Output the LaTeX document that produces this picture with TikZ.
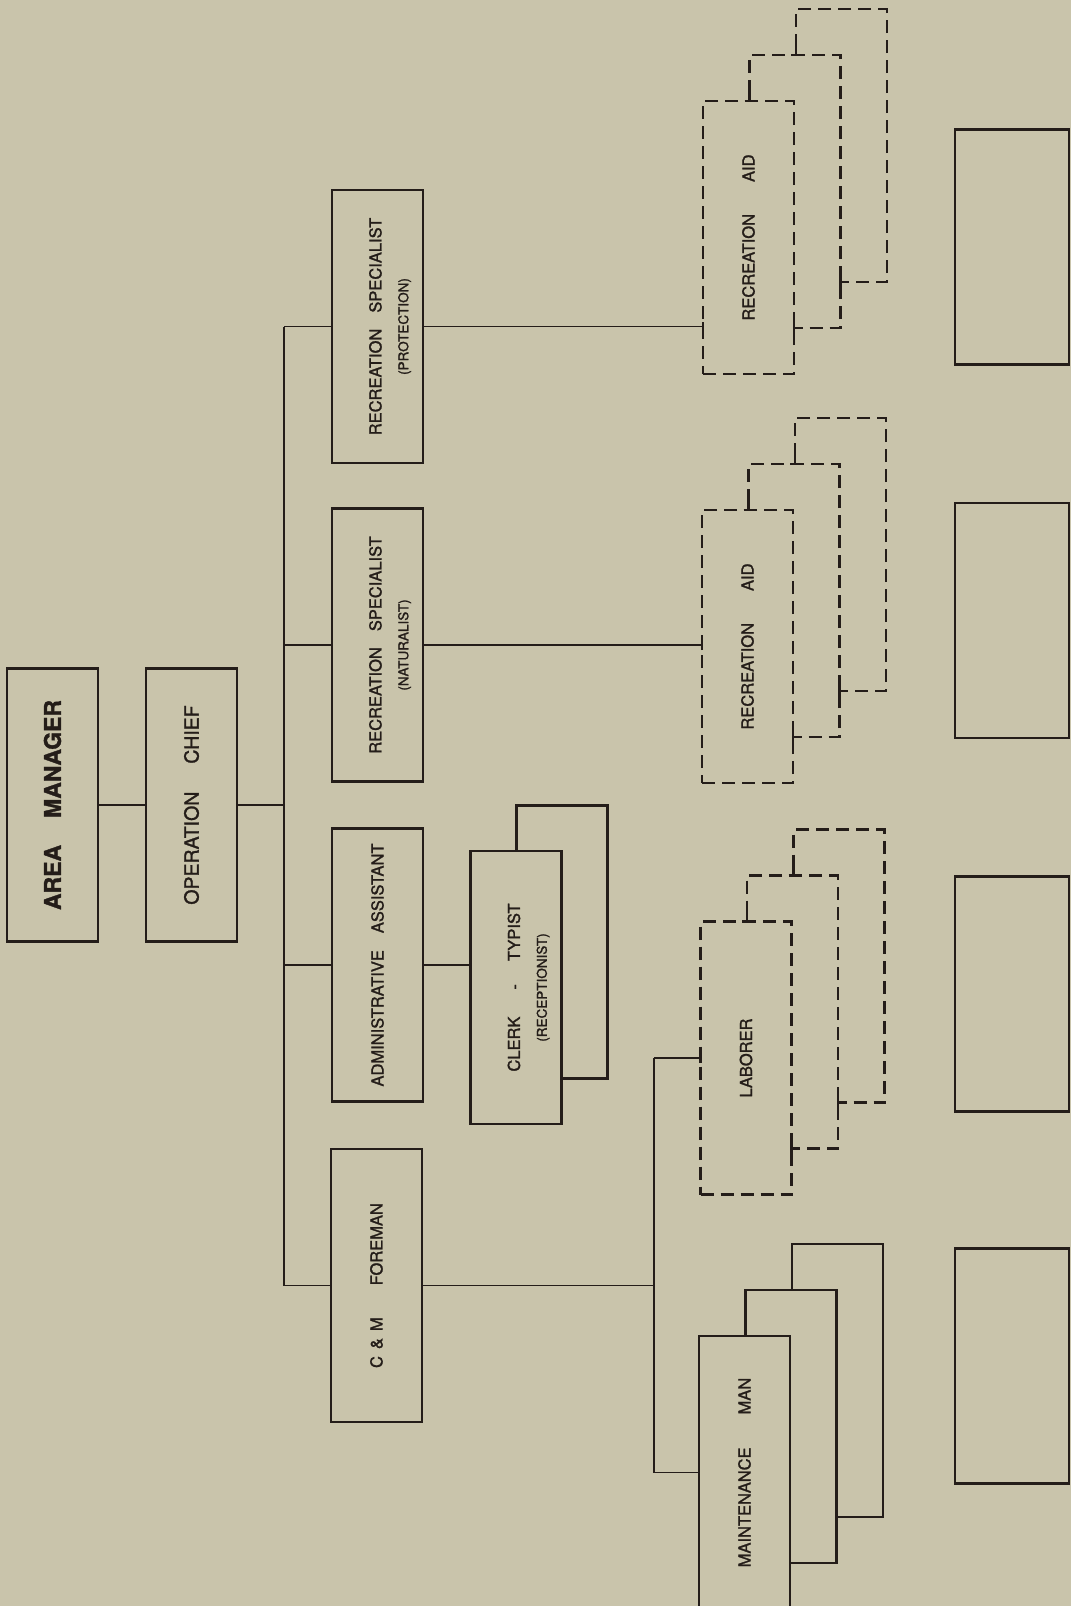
\documentclass[tikz,border=0pt]{standalone}
\usepackage{fontspec}
\setmainfont{TeX Gyre Heros}[FakeBold=1.5]
\definecolor{paper}{RGB}{201,196,171}
\definecolor{ink}{RGB}{36,29,25}
\newcommand{\subsize}{\fontsize{13.5}{16}\selectfont}
\newcommand{\upright}[1]{\rotatebox{90}{#1}}
\newcommand{\upwithsub}[2]{\rotatebox{90}{\begin{tabular}{@{}c@{}}\subsize\strut\\[7pt] #1\\[7pt] \subsize #2\end{tabular}}}

\begin{document}
\begin{tikzpicture}[x=1pt,y=-1pt,
    font=\fontsize{16.5}{19.8}\selectfont,
    post/.style={draw=ink,line width=2.1pt,fill=paper,text=ink,inner sep=0pt,outer sep=0pt,
      minimum width=91pt,minimum height=273pt},
    dashpost/.style={post,dash pattern=on 13pt off 7pt},
    blank/.style={post,minimum width=114pt,minimum height=235pt},
    link/.style={draw=ink,line width=1.6pt},
    tee/.style={draw=ink,line width=2.1pt}]
  \fill[paper] (0,0) rectangle (1071,1606);
  \useasboundingbox (0,0) rectangle (1071,1606);

  % top of the chart
  \node[post] (am) at (52.5,805) {\upright{\fontsize{23}{27}\selectfont\bfseries AREA\hspace{27pt}MANAGER}};
  \node[post] (oc) at (191.5,805) {\upright{\fontsize{19.5}{23}\selectfont OPERATION\hspace{28pt}CHIEF}};

  % second level
  \node[post] (spP) at (377.5,326.5) {\upwithsub{RECREATION\hspace{16pt}SPECIALIST}{(PROTECTION)}};
  \node[post] (spN) at (377.5,645) {\upwithsub{RECREATION\hspace{16pt}SPECIALIST}{(NATURALIST)}};
  \node[post] (adm) at (377.5,965) {\upright{ADMINISTRATIVE\hspace{17pt}ASSISTANT}};
  \node[post] (fore) at (376.5,1285.5) {\upright{C\hspace{7pt}\&\hspace{7pt}M\hspace{32pt}FOREMAN}};

  \node[post] (clerk2) at (562,942) {};
  \node[post] (clerk) at (516,987.5) {\upwithsub{CLERK\hspace{27pt}-\hspace{23pt}TYPIST}{(RECEPTIONIST)}};

  % stacked positions, back ones first
  \foreach \s/\x/\y/\st in {aidA/748.5/237.5/dashpost,aidB/747.5/646.5/dashpost,
      lab/746/1058/dashpost,mnt/744.5/1472.5/post}{
    \node[\st] (\s3) at (\x+93,\y-92) {};
    \node[\st] (\s2) at (\x+46.5,\y-46) {};
  }
  \node[dashpost] (aidA1) at (748.5,237.5) {\upright{RECREATION\hspace{32pt}AID}};
  \node[dashpost] (aidB1) at (747.5,646.5) {\upright{RECREATION\hspace{32pt}AID}};
  \node[dashpost] (lab1) at (746,1058) {\upright{LABORER}};
  \node[post] (mnt1) at (744.5,1472.5) {\upright{MAINTENANCE\hspace{33pt}MAN}};

  \node[blank] (blank1) at (1012,247) {};
  \node[blank] (blank2) at (1012,620.5) {};
  \node[blank] (blank3) at (1012,994) {};
  \node[blank] (blank4) at (1012,1366) {};

  % connectors
  \coordinate (busT) at (284,326.5);
  \coordinate (busB) at (284,1285.5);
  \coordinate (lbus) at (654,1285.5);
  \draw[link]
    (am.east) -- (oc.west)
    (oc.east) -- (oc.east -| busT)
    (busT) -- (busB)
    (busT) -- (spP.west)
    (spN.west -| busT) -- (spN.west)
    (adm.west -| busT) -- (adm.west)
    (busB) -- (fore.west)
    (spP.east) -- (spP.east -| aidA1.west) coordinate (cA)
    (spN.east) -- (spN.east -| aidB1.west) coordinate (cB)
    (adm.east) -- (adm.east -| clerk.west)
    (fore.east) -- (lbus)
    (lab1.west -| lbus) -- (lab1.west) coordinate (cC)
    (lab1.west -| lbus) -- (mnt1.west -| lbus) -- (mnt1.west);

  % solid bits where dashed lines meet
  \foreach \c in {cA,cB,cC}
    \draw[tee] ([yshift=-5pt]\c) -- ([yshift=5pt]\c);
  \foreach \s in {aidA,aidB,lab}{
    \coordinate (t1) at (\s2.west |- \s1.north);
    \coordinate (t2) at (\s3.west |- \s2.north);
    \coordinate (r1) at (\s1.east |- \s2.south);
    \coordinate (r2) at (\s2.east |- \s3.south);
    \draw[tee]
      ([xshift=-5pt]t1) -- ([xshift=5pt]t1) (t1) -- ([yshift=8pt]t1)
      ([xshift=-5pt]t2) -- ([xshift=5pt]t2) (t2) -- ([yshift=8pt]t2)
      ([yshift=-5pt]r1) -- ([yshift=5pt]r1) (r1) -- ([xshift=8pt]r1)
      ([yshift=-5pt]r2) -- ([yshift=5pt]r2) (r2) -- ([xshift=8pt]r2);
  }
\end{tikzpicture}
\end{document}
